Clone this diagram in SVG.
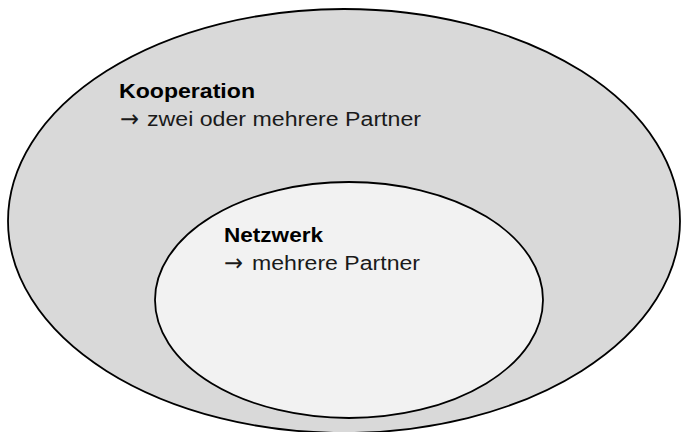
<svg xmlns="http://www.w3.org/2000/svg" width="684" height="432" viewBox="0 0 684 432">
<style>
.b{font-family:"Liberation Sans",Arial,sans-serif;font-size:20px;font-weight:bold;fill:#000}
.r{font-family:"Liberation Sans",Arial,sans-serif;font-size:20px;fill:#1a1a1a}
.a{font-family:"Noto Sans","DejaVu Sans",sans-serif;font-size:24px;fill:#1a1a1a}
.e{stroke:#000;stroke-width:1.8}
</style>
<rect width="684" height="432" fill="#fff"/>
<g id="kooperation">
<ellipse class="e" cx="344" cy="221" rx="336" ry="212" fill="#d9d9d9"/>
<text class="b" x="119" y="98" textLength="136" lengthAdjust="spacingAndGlyphs">Kooperation</text>
<text class="a" x="120" y="127" textLength="19" lengthAdjust="spacingAndGlyphs">→</text>
<text class="r" x="147" y="126" textLength="274" lengthAdjust="spacingAndGlyphs">zwei oder mehrere Partner</text>
</g>
<g id="netzwerk">
<ellipse class="e" cx="349" cy="300" rx="194" ry="118" fill="#f2f2f2"/>
<text class="b" x="224" y="242" textLength="99" lengthAdjust="spacingAndGlyphs">Netzwerk</text>
<text class="a" x="224" y="271" textLength="19" lengthAdjust="spacingAndGlyphs">→</text>
<text class="r" x="252" y="270" textLength="168" lengthAdjust="spacingAndGlyphs">mehrere Partner</text>
</g>
<g id="connectors"/>
</svg>
